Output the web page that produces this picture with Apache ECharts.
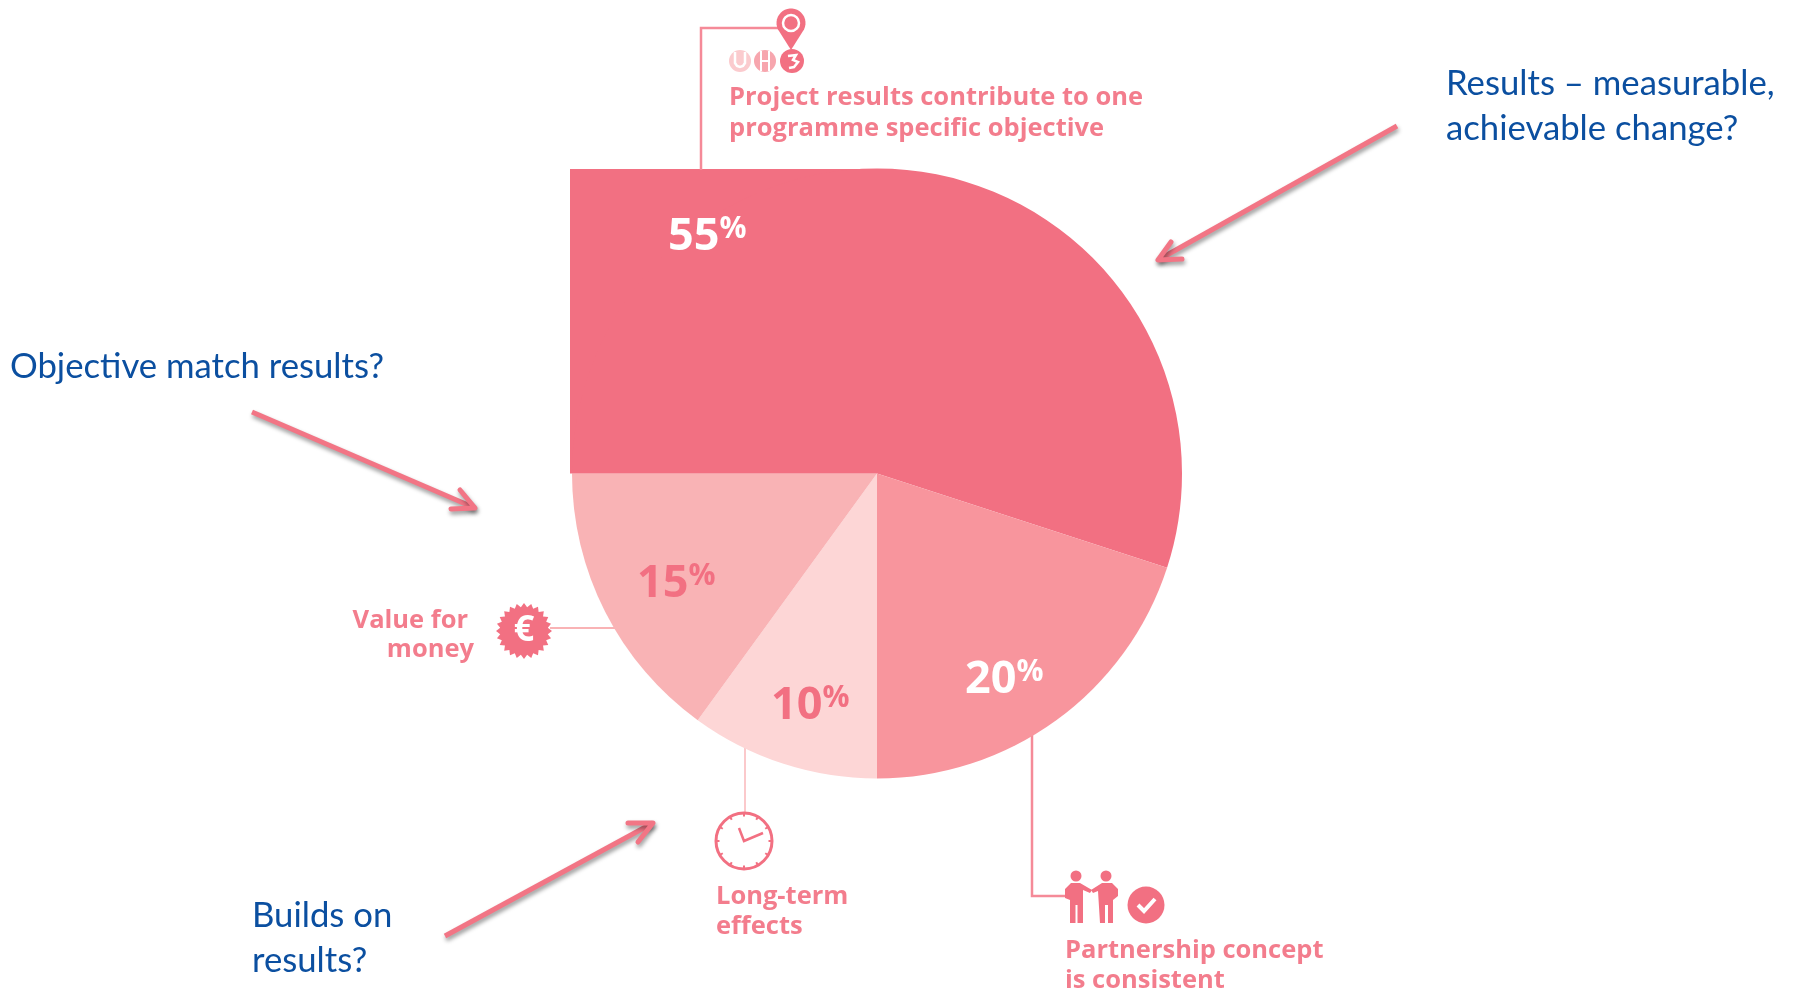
<!DOCTYPE html>
<html>
<head>
<meta charset="utf-8">
<script src="https://cdn.jsdelivr.net/npm/echarts@6/dist/echarts.min.js"></script>
<style>html,body{margin:0;padding:0;background:#fff}#c{width:1796px;height:990px}</style>
</head>
<body>
<div id="c"></div>
<script>
// data
const categories = ['Project results contribute to one programme specific objective', 'Partnership concept is consistent', 'Long-term effects', 'Value for money'];
const values = [55, 20, 10, 15];
// styles
const sliceColors = ['#F27082', '#F8959D', '#FDD6D6', '#F9B3B5'];
const labelInk = ['#fff', '#fff', '#F27082', '#F27082'];
const labelSpots = [[668, 214], [965, 657], [771, 683], [637, 561]];
const PINK = '#F27082', TEXT = '#F37D8D', BLUE = '#0B4FA0';
const SANS = '"Open Sans"', NOTE = 'Lato';
const CX = 877, CY = 473.5, R = 305;

function text(x, y, s, opt) {
  return {type: 'text', z: 5, style: Object.assign({x, y, text: s, verticalAlign: 'top'}, opt)};
}
const pinkT = (x, y, s, align) => text(x, y - 19, s, {fill: TEXT, fontFamily: SANS, fontWeight: 'bold', fontSize: 25.5, align: align || 'left'});
const blueT = (x, y, s) => text(x, y - 27, s, {fill: BLUE, fontFamily: NOTE, fontSize: 34.7});
const seg = (pts, color, w, extra) => Object.assign({type: 'polyline', z: 1, shape: {points: pts}, style: {stroke: color, lineWidth: w, fill: null}}, extra || {});
const arrowStyle = {stroke: '#F27585', lineWidth: 5, fill: null, lineCap: 'round', lineJoin: 'round', shadowBlur: 4, shadowColor: 'rgba(0,0,0,0.4)', shadowOffsetX: 1, shadowOffsetY: 3};
const arrow = (tail, tip, b1, b2) => [
  {type: 'polyline', z: 4, shape: {points: [tail, tip]}, style: Object.assign({}, arrowStyle, {lineCap: 'butt'})},
  {type: 'polyline', z: 4, shape: {points: [b1, tip, b2]}, style: arrowStyle}
];
const circle = (cx, cy, r, style) => ({type: 'circle', z: 5, shape: {cx, cy, r}, style});
const poly = (points, fill) => ({type: 'polygon', z: 5, shape: {points}, style: {fill}});

const teeth = [];
for (let i = 0; i < 48; i++) {
  const a = i * Math.PI / 24, rr = i % 2 ? 24 : 28;
  teeth.push([524 + rr * Math.cos(a), 631 + rr * Math.sin(a)]);
}
const clockTicks = [];
for (let i = 0; i < 12; i++) {
  const a = i * Math.PI / 6;
  clockTicks.push(seg([[744 + 29 * Math.cos(a), 841 + 29 * Math.sin(a)], [744 + 24.5 * Math.cos(a), 841 + 24.5 * Math.sin(a)]], PINK, 2, {z: 5}));
}
// pin outline: round head narrowing to a tip
const pinPts = [];
for (let d = -205; d <= 25; d += 10) {
  const a = d * Math.PI / 180;
  pinPts.push([791 + 14.5 * Math.cos(a), 23 + 14.5 * Math.sin(a)]);
}
pinPts.push([791, 50]);

const graphics = [
  // square corner of the largest slice
  {type: 'rect', z: 0, shape: {x: 570, y: 169, width: CX - 570, height: CY - 169}, style: {fill: sliceColors[0]}},
  // connectors
  seg([[701, 170], [701, 28], [778, 28]], '#F58A98', 2.5),
  seg([[550, 628], [616, 628]], '#F9B3B5', 2),
  seg([[745, 748], [745, 812]], '#FBC9CB', 2),
  seg([[1032, 735], [1032, 896], [1066, 896]], '#F58A98', 2.5),
  // pin
  poly(pinPts, PINK),
  circle(791, 23, 8, {fill: PINK, stroke: '#fff', lineWidth: 2.5}),
  // three small icons
  circle(740, 61, 11, {fill: '#FBCBCE'}),
  seg([[735, 52], [735, 63], [737, 66], [740, 67], [743, 66], [745, 63], [745, 52]], '#fff', 2.5, {z: 6}),
  circle(765, 61, 11, {fill: '#F7A6AE'}),
  seg([[761, 51], [761, 71]], '#fff', 2, {z: 6}),
  seg([[769, 51], [769, 71]], '#fff', 2, {z: 6}),
  seg([[761, 61], [769, 61]], '#fff', 2, {z: 6}),
  circle(792, 61, 12, {fill: PINK}),
  seg([[788, 56], [796, 55], [793, 60], [798, 62], [794, 67], [789, 68]], '#fff', 2.5, {z: 6}),
  // euro badge
  poly(teeth, PINK),
  text(524, 631, '€', {fill: '#fff', fontFamily: SANS, fontWeight: 'bold', fontSize: 36, align: 'center', verticalAlign: 'middle'}),
  // clock
  circle(744, 841, 28, {fill: '#fff', stroke: PINK, lineWidth: 3}),
  ...clockTicks,
  seg([[739, 828], [744, 841], [763, 833]], PINK, 2.5, {z: 6}),
  // partners
  circle(1076, 876, 5.5, {fill: PINK}),
  circle(1106, 876, 5.5, {fill: PINK}),
  poly([[1071,883],[1080,883],[1092,890],[1090,893],[1083,890],[1083,923],[1077.5,923],[1077.5,905],[1075.5,905],[1075.5,923],[1070,923],[1070,900],[1065,898],[1065,889]], PINK),
  poly([[1112,883],[1102,883],[1091,890],[1093,893],[1098,891],[1100,923],[1105,923],[1105,905],[1108,905],[1108,923],[1113,923],[1113,900],[1118,896],[1118,889]], PINK),
  circle(1146, 905, 18.5, {fill: PINK}),
  seg([[1138, 905], [1144, 911], [1155, 899]], '#fff', 4, {z: 6}),
  // pink captions
  pinkT(729, 104, 'Project results contribute to one'),
  pinkT(729, 135, 'programme specific objective'),
  pinkT(468, 627, 'Value for', 'right'),
  pinkT(474, 656, 'money', 'right'),
  pinkT(716, 903, 'Long-term'),
  pinkT(716, 933, 'effects'),
  pinkT(1065, 957, 'Partnership concept'),
  pinkT(1065, 987, 'is consistent'),
  // blue notes
  blueT(10, 376, 'Objective match results?'),
  blueT(252, 925, 'Builds on'),
  blueT(252, 970, 'results?'),
  blueT(1446, 93, 'Results – measurable,'),
  blueT(1446, 138, 'achievable change?'),
  // arrows
  ...arrow([1397, 126], [1158, 260], [1171, 242], [1182, 259]),
  ...arrow([252, 412], [475, 508], [460, 490], [451, 509]),
  ...arrow([445, 936], [653, 823], [628, 823], [638, 842])
];

const chart = echarts.init(document.getElementById('c'), null, {renderer: 'canvas'});
chart.setOption({
  animation: false,
  backgroundColor: '#fff',
  graphic: {elements: graphics},
  series: [{
    type: 'pie',
    center: [CX, CY],
    radius: [0, R],
    startAngle: 180,
    clockwise: true,
    silent: true,
    data: categories.map((name, i) => ({
      name, value: values[i],
      itemStyle: {color: sliceColors[i]},
      label: {
        show: true,
        position: 'inside',
        formatter: '{n|' + values[i] + '}{p|%}',
        rich: {
          n: {fontFamily: SANS, fontWeight: 'bold', fontSize: 45, color: labelInk[i], lineHeight: 46},
          p: {fontFamily: SANS, fontWeight: 'bold', fontSize: 30, color: labelInk[i], lineHeight: 36, verticalAlign: 'top'}
        }
      }
    })),
    labelLine: {show: false},
    labelLayout: p => ({x: labelSpots[p.dataIndex][0], y: labelSpots[p.dataIndex][1], align: 'left', verticalAlign: 'top'})
  }]
});
</script>
</body>
</html>
